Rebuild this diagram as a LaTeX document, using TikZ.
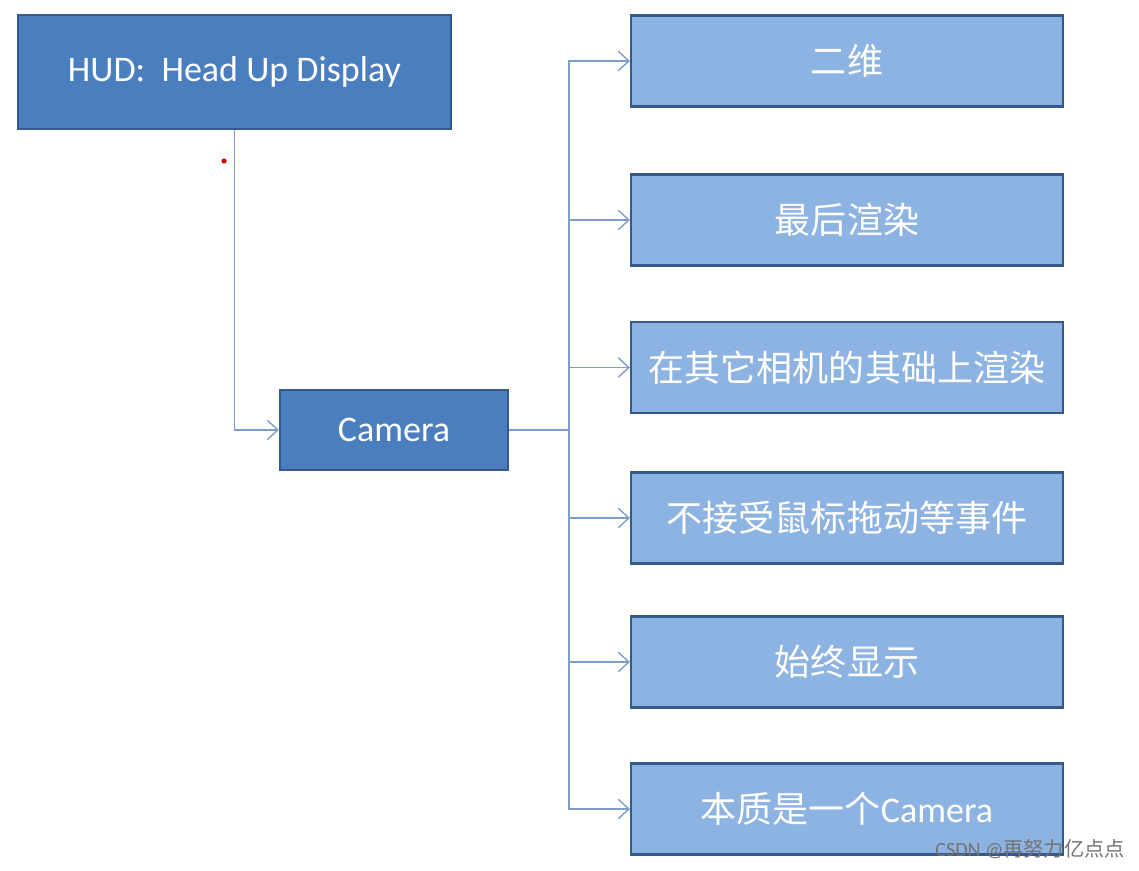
\documentclass[tikz,border=0pt]{standalone}
\usepackage{fontspec}
\setmainfont{Carlito}
\newfontfamily\cjk{Noto Sans CJK SC}
\usetikzlibrary{arrows.meta,positioning}
\definecolor{darkfill}{HTML}{4A7EBF}
\definecolor{lightfill}{HTML}{8DB3E2}
\definecolor{boxline}{HTML}{35598A}
\definecolor{linkcol}{HTML}{7F9DCB}
\tikzset{
  darkbox/.style={draw=boxline, fill=darkfill, line width=1.3pt, text=white,
    inner sep=0pt, font=\fontsize{20.5pt}{24pt}\selectfont},
  lightbox/.style={draw=boxline, fill=lightfill, line width=1.3pt, text=white,
    inner sep=0pt, minimum width=8.64cm, minimum height=1.82cm,
    font=\fontsize{20.5pt}{25pt}\selectfont},
  link/.style={draw=linkcol, line width=0.8pt},
  tip/.style={-{Straight Barb[length=6pt,width=11pt,line width=0.8pt]}}
}
\begin{document}
\begin{tikzpicture}[x=0.02cm,y=-0.02cm]
      \useasboundingbox (0,0) rectangle (1139,871);

      % LEFT SIDE
      \node[darkbox, minimum width=8.66cm, minimum height=2.28cm] (hud) at (234.5,72)
        {HUD:\ \ Head Up Display};
      \node[darkbox, minimum width=4.56cm, minimum height=1.6cm] (cam) at (394,430)
        {Camera};

      % RIGHT SIDE
      \node[lightbox] (b1) at (847,61)    {\cjk 二维};
      \node[lightbox] (b2) at (847,220)   {\cjk 最后渲染};
      \node[lightbox] (b3) at (847,367.5) {\cjk 在其它相机的其础上渲染};
      \node[lightbox] (b4) at (847,518)   {\cjk 不接受鼠标拖动等事件};
      \node[lightbox] (b5) at (847,662)   {\cjk 始终显示};
      \node[lightbox] (b6) at (847,809)   {{\cjk 本质是一个}Camera};

      % ARROWS
      \coordinate (fork) at (569,430);
      \draw[link,tip] (hud.south) |- (cam.west);
      \draw[link] (cam.east) -- (fork);
      \foreach \b in {b1,b2,b3,b4,b5,b6}
        \draw[link,tip] (fork) |- (\b.west);

      % NOTES
      \fill[red!85!black] (224,161) circle (2.6);
      \node[anchor=east, inner sep=0pt, text=black!55, font=\fontsize{11.5pt}{13pt}\selectfont] (mark) at (1125,849)
        {CSDN @{\cjk 再努力亿点点}};
\end{tikzpicture}
\end{document}
